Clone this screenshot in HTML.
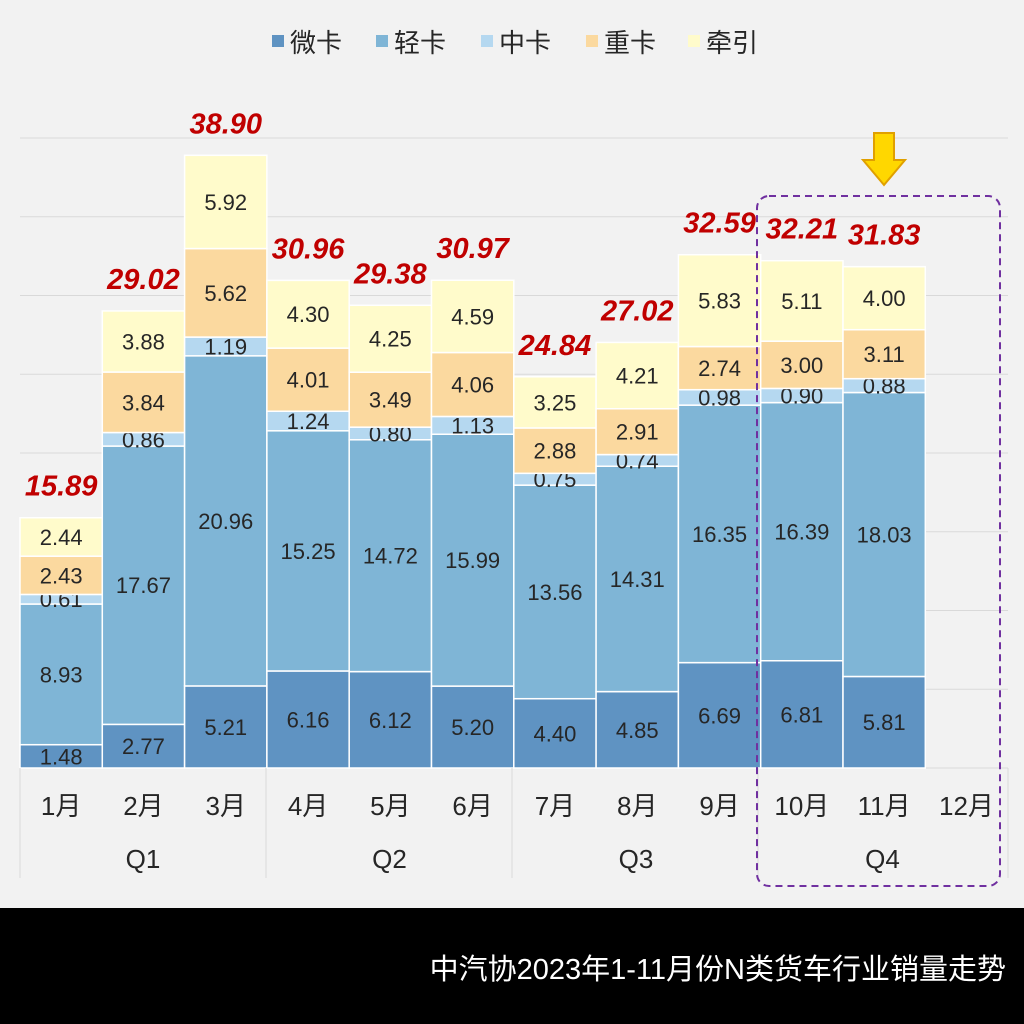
<!DOCTYPE html><html><head><meta charset="utf-8"><style>
body{margin:0;background:#f2f2f2;}
svg{display:block;font-family:"Liberation Sans","Noto Sans CJK SC",sans-serif;}
</style></head><body>
<svg id="s" width="1024" height="1024" xmlns="http://www.w3.org/2000/svg"></svg>
<script>
const d=[[1.48,8.93,0.61,2.43,2.44,"15.89"],[2.77,17.67,0.86,3.84,3.88,"29.02"],[5.21,20.96,1.19,5.62,5.92,"38.90"],[6.16,15.25,1.24,4.01,4.30,"30.96"],[6.12,14.72,0.80,3.49,4.25,"29.38"],[5.20,15.99,1.13,4.06,4.59,"30.97"],[4.40,13.56,0.75,2.88,3.25,"24.84"],[4.85,14.31,0.74,2.91,4.21,"27.02"],[6.69,16.35,0.98,2.74,5.83,"32.59"],[6.81,16.39,0.90,3.00,5.11,"32.21"],[5.81,18.03,0.88,3.11,4.00,"31.83"]];
const col=["#5f93c2","#7fb5d6","#b5d8f0","#fbd99f","#fffbcb"];
const names=["微卡","轻卡","中卡","重卡","牵引"];
let h='<rect width="1024" height="1024" fill="#f2f2f2"/>';
const B=768,S=15.75,X0=20,W=82.3;
for(let i=0;i<9;i++){let y=B-i*5*S;h+=`<line x1="20" x2="1008" y1="${y}" y2="${y}" stroke="#d9d9d9" stroke-width="1"/>`;}
d.forEach((r,i)=>{let x=X0+i*W,y=B;for(let k=0;k<5;k++){let hh=r[k]*S;y-=hh;h+=`<rect x="${x}" y="${y}" width="${W}" height="${hh}" fill="${col[k]}" stroke="#fff" stroke-width="1.5"/>`;
h+=`<text x="${x+W/2}" y="${y+hh/2+8}" font-size="22" fill="#262626" text-anchor="middle">${r[k].toFixed(2)}</text>`;}
h+=`<text x="${x+W/2}" y="${y-22}" font-size="29" font-weight="bold" font-style="italic" fill="#c00000" text-anchor="middle">${r[5]}</text>`;});
[20,266,512,758,1008].forEach(x=>h+=`<line x1="${x}" x2="${x}" y1="768" y2="878" stroke="#d9d9d9"/>`);
for(let i=0;i<12;i++)h+=`<text x="${X0+i*W+W/2}" y="815" font-size="26" fill="#262626" text-anchor="middle">${i+1}月</text>`;
["Q1","Q2","Q3","Q4"].forEach((q,i)=>h+=`<text x="${143+i*246.5}" y="868" font-size="26" fill="#262626" text-anchor="middle">${q}</text>`);
let lx=[272,376,481,586,688];names.forEach((n,k)=>{h+=`<rect x="${lx[k]}" y="35" width="12" height="12" fill="${col[k]}"/><text x="${lx[k]+18}" y="52" font-size="26" fill="#262626">${n}</text>`;});
h+=`<rect x="757" y="196" width="243" height="690" rx="12" fill="none" stroke="#7030a0" stroke-width="2" stroke-dasharray="7,5"/>`;
h+=`<polygon points="874,133 894,133 894,160 905,160 884,185 863,160 874,160" fill="#ffd700" stroke="#e0a000" stroke-width="2"/>`;
h+=`<rect x="0" y="908" width="1024" height="116" fill="#000"/>`;
h+=`<text x="1006" y="979" font-size="29" fill="#fff" text-anchor="end">中汽协2023年1-11月份N类货车行业销量走势</text>`;
document.getElementById('s').innerHTML=h;
</script></body></html>
